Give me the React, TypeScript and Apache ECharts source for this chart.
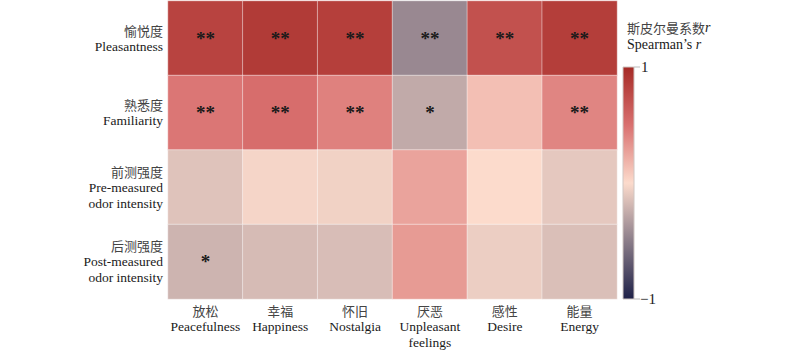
import React, { useEffect, useRef } from "react";
import * as echarts from "echarts";

// Columns (emotions)
const colCn = ["放松", "幸福", "怀旧", "厌恶", "感性", "能量"];
const colEn = ["Peacefulness", "Happiness", "Nostalgia", "Unpleasant\nfeelings", "Desire", "Energy"];

// Rows (ratings)
const rowCn = ["愉悦度", "熟悉度", "前测强度", "后测强度"];
const rowEn = ["Pleasantness", "Familiarity", "Pre-measured\nodor intensity", "Post-measured\nodor intensity"];

// Spearman's r per row
const pleasantness = [0.82, 0.88, 0.85, -0.44, 0.72, 0.86];
const familiarity = [0.47, 0.52, 0.42, -0.26, 0.13, 0.40];
const preIntensity = [-0.13, -0.03, -0.05, 0.26, 0.0, -0.1];
const postIntensity = [-0.21, -0.17, -0.16, 0.3, -0.07, -0.15];

// Significance marks per row
const sigPleasantness = ["**", "**", "**", "**", "**", "**"];
const sigFamiliarity = ["**", "**", "**", "*", "", "**"];
const sigPre = ["", "", "", "", "", ""];
const sigPost = ["*", "", "", "", "", ""];

// Colour scale
const scaleValues = [-1, -0.5, 0, 0.5, 1];
const scaleColors = ["#1f2148", "#8b7d89", "#fcdbcc", "#d9706f", "#a52a25"];
const scaleTicks = ["1", "−1"];

const serif = '"Liberation Serif", "Times New Roman", serif';
const cjk = '"Noto Sans CJK SC", "Liberation Serif", serif';

export default function App() {
  const ref = useRef<HTMLDivElement>(null);

  useEffect(() => {
    if (!ref.current) return;
    const chart = echarts.init(ref.current, null, { renderer: "svg" });

    const matrix = [pleasantness, familiarity, preIntensity, postIntensity];
    const sigs = [sigPleasantness, sigFamiliarity, sigPre, sigPost];
    const data: any[] = [];
    matrix.forEach((row, r) => {
      row.forEach((v, c) => {
        data.push({ value: [c, r, v], sig: sigs[r][c] });
      });
    });

    const rowKeys = rowCn.map((_, i) => String(i));
    const colKeys = colCn.map((_, i) => String(i));

    const barLeft = 623;
    const barTop = 67;
    const barW = 11;
    const barH = 232;

    const gradStops = scaleValues.map((v, i) => ({
      offset: (1 - v) / 2,
      color: scaleColors[i],
    })).sort((a, b) => a.offset - b.offset);

    chart.setOption({
      animation: false,
      backgroundColor: "#ffffff",
      title: {
        text: "{cn|斯皮尔曼系数}{it|r}\n{en|Spearman’s }{it|r}",
        left: 627,
        top: 19,
        padding: 0,
        textStyle: {
          fontWeight: "normal",
          rich: {
            cn: { fontFamily: cjk, fontSize: 13, fontWeight: "normal", color: "#444", lineHeight: 17 },
            en: { fontFamily: serif, fontSize: 14, fontWeight: "normal", color: "#1a1a1a", lineHeight: 17 },
            it: { fontFamily: serif, fontSize: 14, fontWeight: "normal", fontStyle: "italic", color: "#1a1a1a", lineHeight: 17 },
          },
        },
      },
      grid: { left: 168, right: 183, top: 1, bottom: 51 },
      xAxis: {
        type: "category",
        data: colKeys,
        position: "bottom",
        axisLine: { show: false },
        axisTick: { show: false },
        splitLine: { show: false },
        axisLabel: {
          margin: 3,
          interval: 0,
          formatter: (v: string) => {
            const i = Number(v);
            return `{cn|${colCn[i]}}\n{en|${colEn[i].split("\n").join("}\n{en|")}}`;
          },
          rich: {
            cn: { fontFamily: cjk, fontSize: 13, color: "#444", lineHeight: 16 },
            en: { fontFamily: serif, fontSize: 13.5, color: "#1a1a1a", lineHeight: 16 },
          },
        },
      },
      yAxis: {
        type: "category",
        data: rowKeys,
        inverse: true,
        axisLine: { show: false },
        axisTick: { show: false },
        splitLine: { show: false },
        axisLabel: {
          margin: 5,
          interval: 0,
          align: "right",
          formatter: (v: string) => {
            const i = Number(v);
            const en = rowEn[i].split("\n");
            return `{cn|${rowCn[i]}}\n{en|${en.join("}\n{en|")}}`;
          },
          rich: {
            cn: { fontFamily: cjk, fontSize: 13, color: "#444", lineHeight: 16, align: "right" },
            en: { fontFamily: serif, fontSize: 13.5, color: "#1a1a1a", lineHeight: 16, align: "right" },
          },
        },
      },
      visualMap: {
        show: false,
        type: "continuous",
        min: -1,
        max: 1,
        dimension: 2,
        inRange: { color: scaleColors },
      },
      series: [
        {
          type: "heatmap",
          data,
          itemStyle: { borderColor: "rgba(255,255,255,0.45)", borderWidth: 1 },
          label: {
            show: true,
            formatter: (p: any) => p.data.sig,
            fontFamily: serif,
            fontSize: 19,
            fontWeight: "bold",
            color: "#1a1a1a",
          },
          emphasis: { disabled: true },
        },
      ],
      graphic: [
        {
          type: "rect",
          shape: { x: barLeft, y: barTop, width: barW, height: barH },
          style: {
            fill: new echarts.graphic.LinearGradient(0, 0, 0, 1, gradStops),
            stroke: "#cfc6c2",
            lineWidth: 1,
          },
          z: 10,
        },
        {
          type: "line",
          shape: { x1: barLeft + barW, y1: barTop, x2: barLeft + barW + 6, y2: barTop },
          style: { stroke: "#bbb", lineWidth: 1 },
          z: 10,
        },
        {
          type: "line",
          shape: { x1: barLeft + barW, y1: barTop + barH, x2: barLeft + barW + 6, y2: barTop + barH },
          style: { stroke: "#bbb", lineWidth: 1 },
          z: 10,
        },
        {
          type: "text",
          x: barLeft + barW + 7,
          y: barTop,
          style: {
            text: scaleTicks[0],
            fontFamily: serif,
            fontSize: 15,
            fill: "#1a1a1a",
            verticalAlign: "middle",
            align: "left",
          },
          z: 10,
        },
        {
          type: "text",
          x: barLeft + barW + 6,
          y: barTop + barH,
          style: {
            text: scaleTicks[1],
            fontFamily: serif,
            fontSize: 15,
            fill: "#1a1a1a",
            verticalAlign: "middle",
            align: "left",
          },
          z: 10,
        },
      ],
    });

    return () => chart.dispose();
  }, []);

  return (
    <div
      ref={ref}
      style={{ position: "absolute", left: 0, top: 0, width: 800, height: 350 }}
    />
  );
}
